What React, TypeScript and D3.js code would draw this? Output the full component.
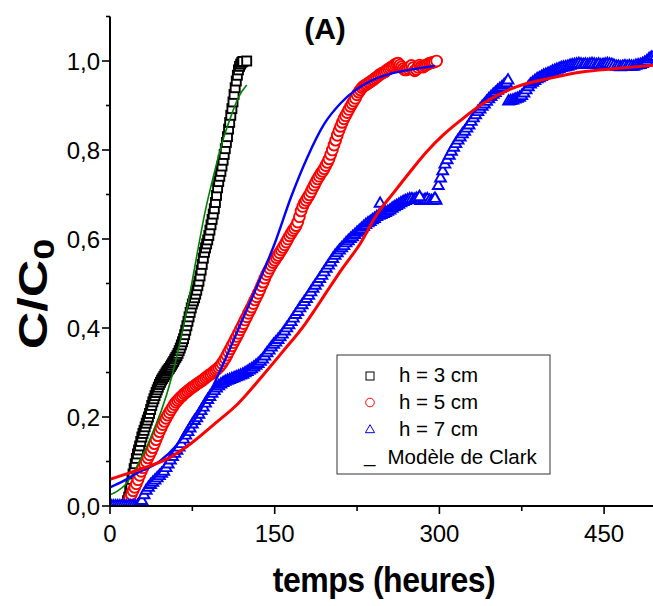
import React from 'react';
import * as d3 from 'd3';

const W = 653;
const H = 606;

const xTicksMajor = [0, 150, 300, 450];
const xTicksMinor = [75, 225, 375];
const yTicksMajor = [0, 0.2, 0.4, 0.6, 0.8, 1.0];
const yTickLabels = ['0,0', '0,2', '0,4', '0,6', '0,8', '1,0'];
const yTicksMinor = [0.1, 0.3, 0.5, 0.7, 0.9, 1.1];

const legendLabels = ['h = 3 cm', 'h = 5 cm', 'h = 7 cm', 'Modèle de Clark'];
const titleText = '(A)';
const xTitle = 'temps (heures)';

// h = 3 cm (black squares)
const h3Data: [number, number][] = [
  [14, 0], [15, 0.003], [16, 0.012], [17, 0.02], [18, 0.033], [19, 0.047], [20, 0.06], [21, 0.072],
  [22, 0.084], [23, 0.095], [24, 0.107], [25, 0.117], [26, 0.126], [27, 0.135], [28, 0.145],
  [29, 0.155], [30, 0.163], [31, 0.17], [32, 0.178], [33, 0.186], [34, 0.193], [35, 0.2],
  [36, 0.208], [37, 0.217], [38, 0.226], [39, 0.234], [40, 0.241], [41, 0.248], [42, 0.255],
  [43, 0.261], [44, 0.267], [45, 0.273], [46, 0.278], [47, 0.283], [48, 0.287], [49, 0.291],
  [50, 0.295], [51, 0.299], [52, 0.303], [53, 0.306], [54, 0.309], [55, 0.313], [56, 0.317],
  [57, 0.321], [58, 0.325], [59, 0.33], [60, 0.334], [61, 0.338], [62, 0.343], [63, 0.349],
  [64, 0.355], [65, 0.362], [66, 0.369], [67, 0.376], [68, 0.385], [69, 0.395], [70, 0.405],
  [71, 0.415], [72, 0.425], [73, 0.435], [74, 0.445], [75, 0.454], [76, 0.461], [77, 0.468],
  [78, 0.476], [79, 0.485], [80, 0.495], [81, 0.505], [82, 0.517], [83, 0.53], [84, 0.543],
  [85, 0.557], [86, 0.57], [87, 0.58], [88, 0.589], [89, 0.598], [90, 0.608], [91, 0.62],
  [92, 0.632], [93, 0.644], [94, 0.656], [95, 0.668], [96, 0.682], [97, 0.698], [98, 0.715],
  [99, 0.729], [100, 0.741], [101, 0.752], [102, 0.764], [103, 0.777], [104, 0.79], [105, 0.803],
  [106, 0.817], [107, 0.83], [108, 0.847], [109, 0.862], [110, 0.878], [111, 0.893], [112, 0.908],
  [113, 0.925], [114, 0.94], [115, 0.955], [116, 0.968], [117, 0.98], [118, 0.988], [119, 0.993],
  [120, 0.997], [121, 0.999], [124.5, 1.0],
];

// h = 5 cm (red circles)
const h5Data: [number, number][] = [
  [15, 0], [16.5, 0.009], [18, 0.018], [19.5, 0.026], [21, 0.034], [22.5, 0.042], [24, 0.05],
  [25.5, 0.059], [27, 0.069], [28.5, 0.078], [30, 0.086], [31.5, 0.093], [33, 0.1], [34.5, 0.108],
  [36, 0.115], [37.5, 0.123], [39, 0.131], [40.5, 0.14], [42, 0.149], [43.5, 0.158], [45, 0.167],
  [46.5, 0.175], [48, 0.183], [49.5, 0.19], [51, 0.197], [52.5, 0.204], [54, 0.21], [55.5, 0.216],
  [57, 0.222], [58.5, 0.228], [60, 0.233], [61.5, 0.237], [63, 0.241], [64.5, 0.245], [66, 0.248],
  [67.5, 0.252], [69, 0.255], [70.5, 0.258], [72, 0.261], [73.5, 0.264], [75, 0.267], [76.5, 0.269],
  [78, 0.272], [79.5, 0.275], [81, 0.277], [82.5, 0.28], [84, 0.282], [85.5, 0.285], [87, 0.288],
  [88.5, 0.291], [90, 0.294], [91.5, 0.296], [93, 0.299], [94.5, 0.302], [96, 0.305], [97.5, 0.308],
  [99, 0.311], [100.5, 0.315], [102, 0.32], [103.5, 0.326], [105, 0.332], [106.5, 0.339],
  [108, 0.346], [109.5, 0.353], [111, 0.36], [112.5, 0.367], [114, 0.374], [115.5, 0.381],
  [117, 0.388], [118.5, 0.396], [120, 0.403], [121.5, 0.41], [123, 0.418], [124.5, 0.425],
  [126, 0.433], [127.5, 0.44], [129, 0.447], [130.5, 0.455], [132, 0.463], [133.5, 0.47],
  [135, 0.478], [136.5, 0.486], [138, 0.495], [139.5, 0.503], [141, 0.512], [142.5, 0.52],
  [144, 0.527], [145.5, 0.534], [147, 0.541], [148.5, 0.547], [150, 0.552], [151.5, 0.558],
  [153, 0.563], [154.5, 0.569], [156, 0.575], [157.5, 0.581], [159, 0.587], [160.5, 0.593],
  [162, 0.6], [163.5, 0.607], [165, 0.613], [166.5, 0.619], [168, 0.624], [169.5, 0.63],
  [171, 0.638], [172.5, 0.65], [174, 0.663], [175.5, 0.673], [177, 0.681], [178.5, 0.687],
  [180, 0.693], [181.5, 0.699], [183, 0.706], [184.5, 0.714], [186, 0.721], [187.5, 0.728],
  [189, 0.735], [190.5, 0.741], [192, 0.747], [193.5, 0.752], [195, 0.758], [196.5, 0.765],
  [198, 0.772], [199.5, 0.78], [201, 0.79], [202.5, 0.8], [204, 0.811], [205.5, 0.822],
  [207, 0.833], [208.5, 0.843], [210, 0.853], [211.5, 0.862], [213, 0.87], [214.5, 0.877],
  [216, 0.884], [217.5, 0.891], [219, 0.898], [220.5, 0.904], [222, 0.91], [223.5, 0.916],
  [225, 0.924], [226.5, 0.93], [228, 0.935], [229.5, 0.94], [231, 0.943], [232.5, 0.946],
  [234, 0.948], [235.5, 0.951], [237, 0.953], [238.5, 0.956], [240, 0.958], [241.5, 0.961],
  [243, 0.964], [244.5, 0.967], [246, 0.97], [247.5, 0.972], [249, 0.974], [250.5, 0.976],
  [252, 0.979], [253.5, 0.982], [255, 0.984], [256.5, 0.987], [258, 0.989], [259.5, 0.992],
  [261, 0.994], [262.5, 0.995], [264, 0.991], [265.5, 0.987], [267, 0.983], [268.5, 0.98],
  [270, 0.98], [271.5, 0.983], [273, 0.987], [274.5, 0.99], [276, 0.985], [277.5, 0.978],
  [279, 0.981], [280.5, 0.986], [282, 0.991], [283.5, 0.988], [285, 0.986], [286.5, 0.989],
  [288, 0.991], [289.5, 0.993], [291, 0.995], [292.5, 0.996], [294, 0.997], [295.5, 0.998],
  [297.5, 1.0],
];

// h = 7 cm (blue triangles)
const h7Data: [number, number][] = [
  [1, 0], [3, 0], [5, 0], [7, 0], [9, 0], [11, 0], [13, 0], [15, 0], [17, 0], [19, 0], [21, 0],
  [23, 0], [25, 0.001], [27, 0.004], [29, 0.012], [31, 0.025], [33, 0.035], [35, 0.042],
  [37, 0.048], [39, 0.053], [41, 0.058], [43, 0.063], [45, 0.068], [47, 0.073], [49, 0.078],
  [51, 0.086], [53, 0.094], [55, 0.103], [57, 0.111], [59, 0.118], [61, 0.125], [63, 0.132],
  [65, 0.14], [67, 0.15], [69, 0.159], [71, 0.167], [73, 0.175], [75, 0.184], [77, 0.192],
  [79, 0.198], [81, 0.206], [83, 0.214], [85, 0.222], [87, 0.231], [89, 0.239], [91, 0.246],
  [93, 0.253], [95, 0.259], [97, 0.265], [99, 0.27], [101, 0.274], [103, 0.277], [105, 0.28],
  [107, 0.282], [109, 0.284], [111, 0.286], [113, 0.288], [115, 0.29], [117, 0.292], [119, 0.294],
  [121, 0.296], [123, 0.299], [125, 0.302], [127, 0.305], [129, 0.308], [131, 0.312], [133, 0.316],
  [135, 0.32], [137, 0.325], [139, 0.33], [141, 0.337], [143, 0.344], [145, 0.35], [147, 0.357],
  [149, 0.363], [151, 0.368], [153, 0.374], [155, 0.38], [157, 0.386], [159, 0.393], [161, 0.4],
  [163, 0.407], [165, 0.414], [167, 0.422], [169, 0.43], [171, 0.437], [173, 0.445], [175, 0.452],
  [177, 0.459], [179, 0.466], [181, 0.473], [183, 0.481], [185, 0.489], [187, 0.496], [189, 0.503],
  [191, 0.511], [193, 0.518], [195, 0.526], [197, 0.534], [199, 0.541], [201, 0.548], [203, 0.556],
  [205, 0.563], [207, 0.569], [209, 0.575], [211, 0.58], [213, 0.585], [215, 0.591], [217, 0.596],
  [219, 0.601], [221, 0.605], [223, 0.61], [225, 0.615], [227, 0.619], [229, 0.623], [231, 0.628],
  [233, 0.632], [235, 0.636], [237, 0.639], [239, 0.643], [241, 0.646], [243, 0.65], [245, 0.653],
  [247, 0.655], [249, 0.657], [251, 0.659], [253, 0.662], [255, 0.665], [257, 0.669], [259, 0.672],
  [261, 0.675], [263, 0.678], [265, 0.681], [267, 0.684], [269, 0.686], [271, 0.688], [273, 0.69],
  [275, 0.69], [277, 0.689], [279, 0.691], [281, 0.692], [283, 0.686], [285, 0.687], [287, 0.689],
  [289, 0.69], [291, 0.687], [293, 0.686], [295, 0.688], [297, 0.687], [246, 0.68], [282, 0.695],
  [296, 0.691],
  [299, 0.72], [301, 0.737], [303, 0.753], [305, 0.768], [307, 0.778], [309, 0.788], [311, 0.797],
  [313, 0.806], [315, 0.814], [317, 0.822], [319, 0.829], [321, 0.836], [323, 0.842], [325, 0.849],
  [327, 0.856], [329, 0.864], [331, 0.872], [333, 0.879], [335, 0.886], [337, 0.892], [339, 0.898],
  [341, 0.903], [343, 0.909], [345, 0.915], [347, 0.92], [349, 0.925], [351, 0.929], [353, 0.934],
  [355, 0.938], [357, 0.942], [359, 0.947], [361, 0.951], [363, 0.91], [365, 0.911], [367, 0.912],
  [369, 0.914], [371, 0.916], [373, 0.918], [375, 0.922], [377, 0.928], [379, 0.935], [381, 0.942],
  [383, 0.948], [385, 0.952], [387, 0.956], [389, 0.96], [391, 0.962], [393, 0.965], [395, 0.968],
  [397, 0.97], [399, 0.972], [401, 0.974], [403, 0.977], [405, 0.979], [407, 0.981], [409, 0.983],
  [411, 0.985], [413, 0.986], [415, 0.987], [417, 0.988], [419, 0.99], [421, 0.991], [423, 0.992],
  [425, 0.993], [427, 0.994], [429, 0.993], [431, 0.992], [433, 0.993], [435, 0.992], [437, 0.993],
  [439, 0.994], [441, 0.993], [443, 0.992], [445, 0.993], [447, 0.991], [449, 0.992], [451, 0.993],
  [453, 0.994], [455, 0.993], [457, 0.992], [459, 0.99], [461, 0.988], [463, 0.988], [465, 0.987],
  [467, 0.988], [469, 0.989], [471, 0.988], [473, 0.989], [475, 0.988], [477, 0.988], [479, 0.99],
  [481, 0.991], [483, 0.992], [485, 0.994], [487, 0.997], [489, 1.0], [491, 1.005], [493, 1.008],
  [495, 1.01], [497, 1.01], [362.5, 0.957],
];

// Clark model fits
const clark3: [number, number][] = [
  [0, 0.025], [7, 0.034], [13.7, 0.047], [22.8, 0.081], [28.9, 0.111], [34.9, 0.141], [41, 0.178],
  [47, 0.216], [56.2, 0.29], [65.3, 0.385], [71.3, 0.458], [77.4, 0.54], [86.5, 0.66],
  [95.6, 0.755], [103.2, 0.825], [110.8, 0.88], [116.9, 0.918], [124.5, 0.946],
];
const clark5: [number, number][] = [
  [0, 0.042], [12, 0.056], [25, 0.074], [45, 0.1], [60, 0.135], [75, 0.185], [90, 0.25],
  [105, 0.33], [120, 0.415], [135, 0.5], [150, 0.59], [165, 0.695], [180, 0.785], [195, 0.858],
  [210, 0.905], [225, 0.937], [240, 0.958], [255, 0.971], [270, 0.979], [285, 0.985], [296, 0.989],
];
const clark7: [number, number][] = [
  [0, 0.06], [25.8, 0.081], [56, 0.111], [74, 0.141], [96, 0.186], [117, 0.231], [138, 0.29],
  [156, 0.343], [178, 0.41], [185, 0.435], [197, 0.48], [212, 0.535], [228, 0.59], [243, 0.655],
  [258, 0.703], [273, 0.75], [288, 0.795], [304, 0.835], [319, 0.866], [340, 0.905], [370, 0.942],
  [400, 0.961], [431, 0.976], [461, 0.983], [492, 0.99], [500, 0.992],
];

const FONT = '"Liberation Sans", Arial, Helvetica, sans-serif';

export default function App() {
  const x = d3.scaleLinear().domain([0, 500]).range([110, 659]);
  const y = d3.scaleLinear().domain([0, 1.1]).range([506, 16.5]);
  const line = d3
    .line<[number, number]>()
    .x((d) => x(d[0]))
    .y((d) => y(d[1]))
    .curve(d3.curveMonotoneX);

  const sq = 9;
  const triPath = 'M0,-6 L5.4,3.4 L-5.4,3.4 Z';
  const mw = 1.9;

  return (
    <svg
      width={W}
      height={H}
      style={{ position: 'absolute', left: 0, top: 0, background: '#fff' }}
      fontFamily={FONT}
    >
      <defs>
        <clipPath id="plotClip">
          <rect x={110} y={0} width={560} height={506} />
        </clipPath>
      </defs>
      <rect x={0} y={0} width={W} height={H} fill="#fff" />

      <g clipPath="url(#plotClip)">
        {h3Data.map((d, i) => (
          <rect
            key={'s' + i}
            x={x(d[0]) - sq / 2}
            y={y(d[1]) - sq / 2}
            width={sq}
            height={sq}
            fill="#fff"
            stroke="#000"
            strokeWidth={mw}
          />
        ))}
        {h5Data.map((d, i) => (
          <circle
            key={'c' + i}
            cx={x(d[0])}
            cy={y(d[1])}
            r={5.4}
            fill="#fff"
            stroke="#ff0000"
            strokeWidth={mw}
          />
        ))}
        {h7Data.map((d, i) => (
          <path
            key={'t' + i}
            d={triPath}
            transform={`translate(${x(d[0])},${y(d[1])})`}
            fill="#fff"
            stroke="#0000ff"
            strokeWidth={mw}
          />
        ))}
        <path d={line(clark3) || ''} fill="none" stroke="#008000" strokeWidth={1.6} />
        <path d={line(clark5) || ''} fill="none" stroke="#0000ff" strokeWidth={2.4} />
        <path d={line(clark7) || ''} fill="none" stroke="#ff0000" strokeWidth={3} />
      </g>

      {/* Axes */}
      <line x1={110} y1={y(1.1)} x2={110} y2={507} stroke="#000" strokeWidth={2} />
      <line x1={109} y1={506} x2={W} y2={506} stroke="#000" strokeWidth={2} />
      {yTicksMajor.map((t, i) => (
        <g key={'ym' + i}>
          <line x1={102} x2={110} y1={y(t)} y2={y(t)} stroke="#000" strokeWidth={1.6} />
          <text x={100} y={y(t)} dy="0.36em" textAnchor="end" fontSize={24} fill="#000">
            {yTickLabels[i]}
          </text>
        </g>
      ))}
      {yTicksMinor.map((t, i) => (
        <line key={'yn' + i} x1={106} x2={110} y1={y(t)} y2={y(t)} stroke="#000" strokeWidth={1.6} />
      ))}
      {xTicksMajor.map((t, i) => (
        <g key={'xm' + i}>
          <line x1={x(t)} x2={x(t)} y1={506} y2={514} stroke="#000" strokeWidth={1.6} />
          <text x={x(t)} y={542} textAnchor="middle" fontSize={24} fill="#000">
            {String(t)}
          </text>
        </g>
      ))}
      {xTicksMinor.map((t, i) => (
        <line key={'xn' + i} x1={x(t)} x2={x(t)} y1={506} y2={511} stroke="#000" strokeWidth={1.6} />
      ))}

      {/* Titles */}
      <text x={325} y={39} textAnchor="middle" fontSize={30} fontWeight="bold" fill="#000">
        {titleText}
      </text>
      <text
        transform="translate(384,592) scale(1,1.1)"
        textAnchor="middle"
        fontSize={32}
        fontWeight="bold"
        fill="#000"
        letterSpacing={-0.5}
      >
        {xTitle}
      </text>
      <text
        transform="translate(47,294) rotate(-90) scale(1.3,1)"
        textAnchor="middle"
        fontSize={40}
        fontWeight="bold"
        fill="#000"
      >
        C/C
        <tspan fontSize={29} dy={7}>0</tspan>
      </text>

      {/* Legend */}
      <rect x={337} y={355} width={213} height={119} fill="#fff" stroke="#333" strokeWidth={1} />
      <rect x={366} y={372} width={8} height={8} fill="#fff" stroke="#000" strokeWidth={1} />
      <circle cx={370} cy={402.5} r={4.3} fill="#fff" stroke="#ff0000" strokeWidth={1} />
      <path d="M0,-4.8 L4.6,3.2 L-4.6,3.2 Z" transform="translate(370,429.5)" fill="#fff" stroke="#0000ff" strokeWidth={1} />
      <text x={364} y={462} fontSize={20.5} fill="#000">_</text>
      {legendLabels.map((l, i) => (
        <text
          key={'lg' + i}
          x={i === 3 ? 387.5 : 399}
          y={382 + i * 27.2}
          fontSize={20.5}
          fill="#000"
        >
          {l}
        </text>
      ))}
    </svg>
  );
}
